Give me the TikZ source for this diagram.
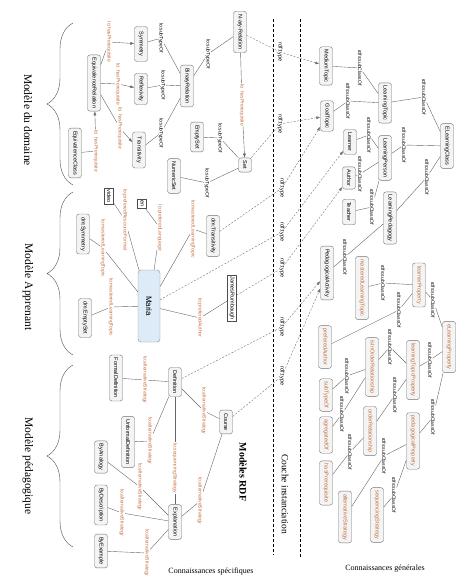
\documentclass[tikz,border=0pt]{standalone}
\usepackage{fontspec}
\setmainfont{Liberation Serif}
\newfontfamily\nodefont{Liberation Sans}
\usepackage{xcolor}
\definecolor{lorange}{RGB}{196,110,62}
\definecolor{mariablue}{RGB}{221,234,248}
\definecolor{boxgray}{RGB}{244,244,244}
\usepackage{tikz}
\usetikzlibrary{arrows.meta,decorations.pathreplacing}
\tikzset{
    concept/.style={
    rectangle,rounded corners=2.5pt,draw=black!55,fill=boxgray,rotate=-90,
    font=\nodefont\fontsize{5.5}{6}\selectfont,inner xsep=3pt,inner ysep=0pt,minimum height=13pt
    },
    prop/.style={
    concept,text=lorange
    },
    literal/.style={
    rectangle,draw=black!70,fill=white,rotate=-90,
    font=\nodefont\fontsize{5.5}{6}\selectfont,inner xsep=1.5pt,inner ysep=0pt,minimum height=9pt
    },
    indiv/.style={
    rectangle,rounded corners=3pt,draw=black!45,fill=mariablue,rotate=-90,
    font=\nodefont\fontsize{8}{9}\selectfont,minimum height=22pt,minimum width=72pt
    },
  lab/.style={rotate=-90, font=\nodefont\fontsize{5}{6}\selectfont, inner sep=0.6pt},
  olab/.style={lab, text=lorange},
  tlab/.style={lab, font=\nodefont\fontsize{5.5}{6}\selectfont},
  title/.style={rotate=-90, font=\fontsize{11.5}{12}\selectfont},
  line/.style={draw=black!60, thin},
  rel/.style={line, -{Latex[length=4pt,width=3pt]}},
  typeof/.style={draw=black!55, thin, dash pattern=on 2pt off 1.5pt, -{Latex[length=4pt,width=3pt]}},
  sep/.style={draw=black, semithick, dash pattern=on 3pt off 2pt},
  brace/.style={draw=black!70, thin, decorate, decoration={brace, amplitude=26pt}}
}

\begin{document}
\begin{tikzpicture}[x=1pt,y=-1pt]
    \useasboundingbox (0,0) rectangle (467,580);

    % braces and titles
    \draw[brace] (73,185) -- (73,23);
    \draw[brace] (73,355) -- (73,192);
    \draw[brace] (73,547) -- (73,365);
    \node[title] (tdom) at (28,120) {Modèle du domaine};
    \node[title] (tapp) at (28,287) {Modèle Apprenant};
    \node[title] (tped) at (28,466) {Modèle pédagogique};

    % separators
    \draw[sep] (273,19) -- (273,555);
    \draw[sep] (300,19) -- (300,557);
    \node[rotate=-90, font=\bfseries\fontsize{10}{12}\selectfont] (rdf) at (243,472) {Modèles RDF};
    \node[rotate=-90, font=\fontsize{9.5}{11}\selectfont] (couche) at (285,494) {Couche instanciation};
    \node[font=\fontsize{8}{10}\selectfont] (cspec) at (211,572) {Connaissances spécifiques};
    \node[font=\fontsize{8}{10}\selectfont] (cgen) at (385,569) {Connaissances générales};

    % domain model
    \node[concept] (nary) at (240,32) {N-ary-Relation};
    \node[concept] (binrel) at (187,86) {BinaryRelation};
    \node[concept, minimum width=35pt] (sym) at (141,44) {Symmetry};
    \node[concept] (refl) at (141,89) {Reflexivity};
    \node[concept, minimum width=36pt] (trans) at (139,150) {Transitivity};
    \node[concept] (eqrel) at (94,83) {EquivalenceRelation};
    \node[concept] (eqclass) at (75,153) {EquivalenceClass};
    \node[concept] (emptyset) at (197,137) {EmptySet};
    \node[concept] (numset) at (174,176) {NumericSet};
    \node[concept] (set) at (245,165) {Set};

    % learner model
    \node[literal] (video) at (109,196) {video};
    \node[literal] (en) at (142,204) {en};
    \node[concept] (dmsym) at (83,234) {dm:Symmetry};
    \node[concept] (dmtrans) at (213,236) {dm:Transitivity};
    \node[indiv] (maria) at (149,306) {Maria};
    \node[concept] (dmempty) at (85,318) {dm:EmptySet};
    \node[literal] (james) at (232,298) {JamesRumbaugh};

    % pedagogical model
    \node[concept] (formdef) at (116,378) {FormalDefinition};
    \node[concept] (def) at (175,382) {Definition};
    \node[concept] (unformdef) at (128,442) {UnformalDefinition};
    \node[concept] (course) at (226,422) {Course};
    \node[concept] (byanalogy) at (101,457) {ByAnalogy};
    \node[concept] (bydesc) at (101,505) {ByDescription};
    \node[concept] (byexample) at (101,551) {ByExample};
    \node[concept] (expl) at (175,522) {Explanation};

    % general knowledge
    \node[concept] (medtopic) at (326,66) {MediumTopic};
    \node[concept] (goaltopic) at (327,116) {GoalTopic};
    \node[concept] (learntopic) at (385,103) {LearningTopic};
    \node[concept] (elclass) at (447,146) {ELearningClass};
    \node[concept] (learner) at (350,142) {Learner};
    \node[concept] (learnperson) at (385,158) {LearningPerson};
    \node[concept] (author) at (349,178) {Author};
    \node[concept] (teacher) at (349,212) {Teacher};
    \node[concept] (learnped) at (390,218) {LearningPedagogy};
    \node[concept] (pedact) at (327,273) {PedagogicalActivity};
    \node[prop] (mastered) at (362,288) {masteredLearningTopic};
    \node[prop] (learnerprop) at (419,285) {learnerProperty};
    \node[prop] (elprop) at (449,347) {eLearningProperty};
    \node[prop] (prefauthor) at (325,347) {preferedAuthor};
    \node[prop] (inorder) at (372,367) {isInOrderRelationship};
    \node[prop] (ltprop) at (413,370) {learningTopicProperty};
    \node[prop] (subtype) at (326,395) {subTypeOf};
    \node[prop] (aggreg) at (326,435) {agregatedOf};
    \node[prop] (pedprop) at (413,441) {pedagogicalProperty};
    \node[prop] (orderrel) at (370,431) {orderRelationship};
    \node[prop] (hasprereq) at (326,483) {hasPrerequisite};
    \node[prop] (altstrat) at (345,517) {alternativeStrategy};
    \node[prop] (seqstrat) at (377,515) {sequencingStrategy};

    % edge labels, domain
    \node[olab] (d1) at (109,42) {lo:hasPrerequisite};
    \node[olab] (d2) at (118,84) {lo: hasPrerequisite};
    \node[olab] (d3) at (120,128) {lo: hasPrerequisite};
    \node[olab] (d4) at (96,151) {lo: hasPrerequisite};
    \node[lab] (d5) at (161,38) {lo:subTypeOf};
    \node[lab] (d6) at (163,85) {lo:subTypeOf};
    \node[lab] (d7) at (161,133) {lo:subTypeOf};
    \node[lab] (d8) at (208,54) {lo:subTypeOf};
    \node[olab] (d9) at (242,105) {lo: hasPrerequisite};
    \node[lab] (d10) at (220,138) {lo:subTypeOf};
    \node[lab] (d11) at (207,183) {lo:subTypeOf};

    % edge labels, learner
    \node[olab] (a1) at (125,220) {lo:preferedResourceFormat};
    \node[olab] (a2) at (160,228) {lo:preferedLanguage};
    \node[olab] (a3) at (103,248) {lo:masteredLearningTopic};
    \node[olab] (a4) at (193,229) {lo:masteredLearningTopic};
    \node[olab] (a5) at (111,307) {lo:masteredLearningTopic};
    \node[olab] (a6) at (200,318) {lo:preferedAuthor};

    % edge labels, pedagogy
    \node[olab] (p1) at (145,380) {lo:alternativeStrategy};
    \node[olab] (p2) at (204,411) {lo:alternativeStrategy};
    \node[olab] (p3) at (150,441) {lo:alternativeStrategy};
    \node[olab] (p4) at (175,468) {lo:sequencingStrategy};
    \node[olab] (p5) at (140,487) {lo:alternativeStrategy};
    \node[olab] (p6) at (122,513) {lo:alternativeStrategy};
    \node[olab] (p7) at (147,553) {lo:alternativeStrategy};
    \node[olab] (p8) at (200,501) {lo:alternativeStrategy};

    % rdf:type labels
    \node[tlab] (r1) at (280,52) {rdf:type};
    \node[tlab] (r2) at (280,124) {rdf:type};
    \node[tlab] (r3) at (282,188) {rdf:type};
    \node[tlab] (r4) at (282,232) {rdf:type};
    \node[tlab] (r5) at (282,268) {rdf:type};
    \node[tlab] (r6) at (282,327) {rdf:type};
    \node[tlab] (r7) at (282,376) {rdf:type};

    % subclass labels
    \foreach \n/\x/\y in {g1/360/68, g2/348/101, g3/424/97, g4/369/135, g5/404/145,
        g6/360/174, g7/372/207, g8/427/177, g9/345/257, g10/383/283, g11/399/310,
        g12/433/300, g13/390/347, g14/430/360, g15/347/376, g16/342/414, g17/350/452,
        g18/395/395, g19/433/417, g20/384/456, g21/394/495}
      \node[lab] (\n) at (\x,\y) {rdfs:subClassOf};

    % domain edges
    \draw[rel] (eqrel) -- (d1) -- (sym);
    \draw[rel] (eqrel) -- (d2) -- (refl);
    \draw[rel] (eqrel) -- (d3) -- (trans);
    \draw[rel] (eqclass) -- (d4) -- (eqrel);
    \draw[line] (sym) -- (d5) -- (binrel);
    \draw[line] (refl) -- (d6) -- (binrel);
    \draw[line] (trans) -- (d7) -- (binrel);
    \draw[line] (binrel) -- (d8) -- (nary);
    \draw[rel] (nary) -- (d9) -- (set);
    \draw[line] (emptyset) -- (d10) -- (set);
    \draw[line] (numset) -- (d11) -- (set);

    % learner edges
    \draw[line] (video) -- (a1) -- (maria);
    \draw[line] (en) -- (a2) -- (maria);
    \draw[line] (dmsym) -- (a3) -- (maria);
    \draw[line] (dmtrans) -- (a4) -- (maria);
    \draw[line] (dmempty) -- (a5) -- (maria);
    \draw[line] (maria) -- (a6) -- (james);

    % pedagogy edges
    \draw[line] (formdef) -- (p1) -- (def);
    \draw[line] (def) -- (p2) -- (course);
    \draw[line] (unformdef) -- (p3) -- (def);
    \draw[line] (def) -- (p4) -- (expl);
    \draw[line] (byanalogy) -- (p5) -- (expl);
    \draw[line] (bydesc) -- (p6) -- (expl);
    \draw[line] (byexample) -- (p7) -- (expl);
    \draw[line] (course) -- (p8) -- (expl);

    % instanciation
    \draw[typeof] (nary) -- (r1) -- (medtopic);
    \draw[typeof] (set) -- (r2) -- (goaltopic);
    \draw[typeof] (dmtrans) -- (r3) -- (goaltopic);
    \draw[typeof] (maria) -- (r4) -- (learner);
    \draw[typeof] (james) -- (r5) -- (author);
    \draw[typeof] (def) -- (r6) -- (pedact);
    \draw[typeof] (course) -- (r7) -- (pedact);

    % general edges
    \draw[line] (medtopic) -- (g1) -- (learntopic);
    \draw[line] (goaltopic) -- (g2) -- (learntopic);
    \draw[line] (learntopic) -- (g3) -- (elclass);
    \draw[line] (learner) -- (g4) -- (learnperson);
    \draw[line] (learnperson) -- (g5) -- (elclass);
    \draw[line] (author) -- (g6) -- (learnperson);
    \draw[line] (teacher) -- (g7) -- (learnperson);
    \draw[line] (learnped) -- (g8) -- (elclass);
    \draw[line] (pedact) -- (g9) -- (learnped);
    \draw[line] (mastered) -- (g10) -- (learnerprop);
    \draw[line] (prefauthor) -- (g11) -- (learnerprop);
    \draw[line] (learnerprop) -- (g12) -- (elprop);
    \draw[line] (inorder) -- (g13) -- (ltprop);
    \draw[line] (ltprop) -- (g14) -- (elprop);
    \draw[line] (subtype) -- (g15) -- (inorder);
    \draw[line] (aggreg) -- (g16) -- (inorder);
    \draw[line] (hasprereq) -- (g17) -- (orderrel);
    \draw[line] (orderrel) -- (g18) -- (ltprop);
    \draw[line] (pedprop) -- (g19) -- (elprop);
    \draw[line] (altstrat) -- (g20) -- (pedprop);
    \draw[line] (seqstrat) -- (g21) -- (pedprop);
\end{tikzpicture}
\end{document}
